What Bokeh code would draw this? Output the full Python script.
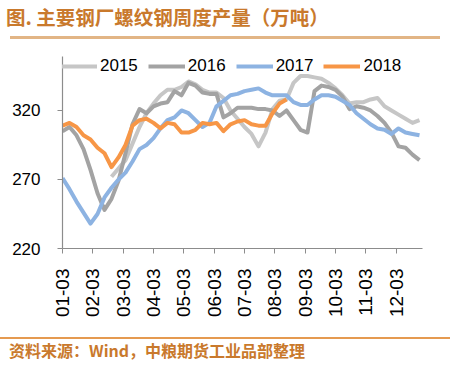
import math
from bokeh.plotting import figure
from bokeh.models import Range1d, FixedTicker, Legend, LegendItem, Div
from bokeh.layouts import column
from bokeh.embed import file_html
from bokeh.resources import INLINE

title_text = "图. 主要钢厂螺纹钢周度产量（万吨）"
source_text = "资料来源：Wind，中粮期货工业品部整理"
series_names = ["2015", "2016", "2017", "2018"]
month_labels = ["01-03", "02-03", "03-03", "04-03", "05-03", "06-03",
                "07-03", "08-03", "09-03", "10-03", "11-03", "12-03"]
month_tick_days = [0, 30, 61, 91, 121, 152, 182, 212, 243, 273, 303, 334]
y_ticks = [220, 270, 320]

# weekly values (10k tonnes); first week index of each series
start_2015 = 7
v2015 = [272, 278, 284, 296, 308, 318, 325, 331, 335, 335,
         337, 341, 339, 335, 333, 333, 329, 320, 314, 308,
         303, 294, 304, 321, 327, 328, 340, 345, 345, 344,
         343, 340, 336, 331, 325, 326, 326, 328, 329, 323,
         320, 317, 314, 311, 313]
start_2016 = 0
v2016 = [305, 308, 302, 292, 277, 260, 248, 256, 269, 289,
         310, 321, 318, 323, 325, 326, 334, 331, 340, 338,
         333, 332, 332, 315, 318, 322, 322, 322, 321, 321,
         320, 316, 320, 313, 306, 304, 334, 338, 337, 335,
         330, 321, 323, 322, 320, 316, 311, 304, 294, 293,
         288, 284]
start_2017 = 0
v2017 = [271, 263, 254, 246, 238, 245, 257, 264, 270, 275,
         283, 292, 295, 300, 307, 313, 315, 320, 318, 313,
         308, 311, 323, 327, 331, 332, 334, 335, 336, 333,
         331, 331, 331, 326, 324, 324, 328, 331, 331, 330,
         327, 324, 318, 314, 310, 307, 306, 303, 307, 304,
         303, 302]
start_2018 = 0
v2018 = [309, 311, 308, 302, 299, 293, 289, 279, 286, 295,
         309, 313, 314, 311, 307, 311, 310, 304, 304, 306,
         311, 310, 311, 305, 310, 312, 313, 310, 309, 309,
         318, 325, 328]

colors = ["#C6C6C6", "#A3A3A3", "#8DB3E2", "#F79646"]
starts = [start_2015, start_2016, start_2017, start_2018]
values = [v2015, v2016, v2017, v2018]

W = 450
HEAD_H = 44
FOOT_H = 37
FIG_H = 367 - HEAD_H - FOOT_H  # 286

p = figure(width=W, height=FIG_H, output_backend="svg", toolbar_location=None,
           x_range=Range1d(0, 360), y_range=Range1d(220, 359.1),
           min_border_left=62, min_border_right=28, min_border_top=12,
           min_border_bottom=FIG_H - 204, margin=0)
p.xgrid.visible = False
p.ygrid.visible = False
p.outline_line_color = None
p.background_fill_color = "white"
p.border_fill_color = "white"

axis_col = "#8C8C8C"
for ax in (p.xaxis[0], p.yaxis[0]):
    ax.axis_line_color = axis_col
    ax.axis_line_width = 1.2
    ax.major_tick_line_color = axis_col
    ax.major_tick_in = 0
    ax.major_tick_out = 5
    ax.minor_tick_out = 0
    ax.minor_tick_in = 0
    ax.major_label_text_color = "black"
    ax.major_label_text_font = "Liberation Sans"

p.yaxis.ticker = FixedTicker(ticks=y_ticks)
p.yaxis.major_label_text_font_size = "17px"
p.yaxis.major_label_standoff = 17

p.xaxis.ticker = FixedTicker(ticks=month_tick_days)
p.xaxis.major_label_overrides = {d: lab for d, lab in zip(month_tick_days, month_labels)}
p.xaxis.major_label_orientation = math.pi / 2
p.xaxis.major_label_text_font_size = "19px"
p.xaxis.major_label_standoff = 15

items = []
for name, st, vals, col in zip(series_names, starts, values, colors):
    xs = [7 * (st + i) for i in range(len(vals))]
    r = p.line(xs, vals, line_color=col, line_width=4, line_join="round")
    items.append(LegendItem(label=name, renderers=[r]))

# legend: bottom edge given in screen px from frame bottom
legend = Legend(items=items, orientation="horizontal", location=(-2, 172),
                glyph_width=37, glyph_height=20, label_standoff=3, spacing=10,
                padding=0, margin=0, border_line_alpha=0, background_fill_alpha=0,
                label_text_font="Liberation Sans", label_text_font_size="17px",
                label_text_color="black", label_height=20)
p.add_layout(legend)

head_html = (
    f'<div style="position:relative;width:{W}px;height:{HEAD_H}px;background:white;">'
    '<div style="position:absolute;left:6px;top:4px;white-space:nowrap;'
    "font-family:'Noto Sans CJK SC';font-weight:bold;font-size:19.5px;line-height:26px;"
    f'color:#C9792C;">{title_text}</div>'
    '<div style="position:absolute;left:10px;top:36px;width:430px;height:3px;'
    'background:#E2B585;"></div></div>'
)
foot_html = (
    f'<div style="position:relative;width:{W}px;height:{FOOT_H}px;background:white;">'
    '<div style="position:absolute;left:0px;top:7px;width:450px;height:2px;'
    'background:#E59A50;"></div>'
    '<div style="position:absolute;left:9px;top:9px;white-space:nowrap;'
    "font-family:'Noto Sans CJK SC';font-weight:bold;font-size:16px;line-height:22px;"
    f'color:#C9792C;">{source_text}</div></div>'
)
head = Div(text=head_html, width=W, height=HEAD_H, margin=0)
foot = Div(text=foot_html, width=W, height=FOOT_H, margin=0)

layout = column(head, p, foot, spacing=0, margin=0)
open("out.html", "w").write(file_html(layout, INLINE))
